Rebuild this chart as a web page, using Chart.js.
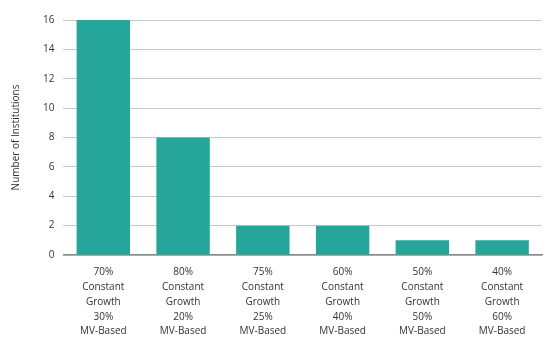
<!DOCTYPE html>
<html>
<head>
<meta charset="utf-8">
<script src="https://cdn.jsdelivr.net/npm/chart.js@4"></script>
<style>
  html, body { margin: 0; padding: 0; background: #fff; }
  #wrap { width: 556px; height: 345px; position: relative; }
</style>
</head>
<body>
<div id="wrap"><canvas id="chart"></canvas></div>
<script>
const categories = [
  ['70%', 'Constant', 'Growth', '30%', 'MV-Based'],
  ['80%', 'Constant', 'Growth', '20%', 'MV-Based'],
  ['75%', 'Constant', 'Growth', '25%', 'MV-Based'],
  ['60%', 'Constant', 'Growth', '40%', 'MV-Based'],
  ['50%', 'Constant', 'Growth', '50%', 'MV-Based'],
  ['40%', 'Constant', 'Growth', '60%', 'MV-Based']
];
const institutions = [16, 8, 2, 2, 1, 1];
const yMax = 16;
const yStep = 2;

const ctx = document.getElementById('chart').getContext('2d');
new Chart(ctx, {
  type: 'bar',
  data: {
    labels: categories,
    datasets: [{
      data: institutions,
      backgroundColor: '#26a69a',
      borderWidth: 0,
      barPercentage: 0.67,
      categoryPercentage: 1.0
    }]
  },
  options: {
    responsive: true, maintainAspectRatio: false,
    animation: false,
    layout: { padding: { left: 6, right: 14, top: 20, bottom: -4 } },
    plugins: { legend: { display: false }, tooltip: { enabled: false } },
    scales: {
      x: {
        grid: { display: false, drawTicks: false },
        border: { color: '#8c8c8c', width: 1.5 },
        ticks: { color: '#333', font: { family: 'Open Sans', size: 10, lineHeight: 1.48 }, padding: 10, maxRotation: 0, autoSkip: false }
      },
      y: {
        min: 0, max: yMax,
        ticks: { stepSize: yStep, color: '#333', font: { family: 'Open Sans', size: 10 }, padding: 9 },
        grid: { color: '#c8c8c8', drawTicks: false },
        border: { display: false },
        title: { display: true, text: 'Number of Institutions', color: '#333', font: { family: 'Open Sans', size: 10 }, padding: { bottom: 12 } }
      }
    }
  }
});
</script>
</body>
</html>
